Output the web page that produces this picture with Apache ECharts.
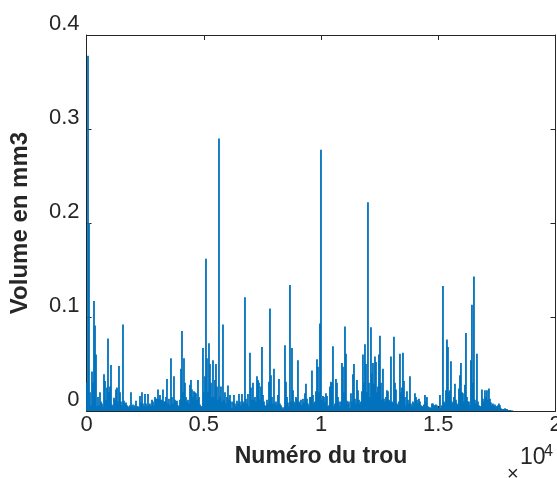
<!DOCTYPE html>
<html>
<head>
<meta charset="utf-8">
<script src="https://cdn.jsdelivr.net/npm/echarts@6/dist/echarts.min.js"></script>
<style>
html,body{margin:0;padding:0;background:#fff;}
#chart{width:557px;height:478px;}
</style>
</head>
<body>
<div id="chart"></div>
<script>
// Hole numbers: samples start at hole 21, one sample per ~42.64 holes
// (each value is the largest volume read in that group of holes)
const firstHole = 21;
const holesPerSample = 42.64;

// Volume (mm3)
const volumes = [
0.03,0.378,0.2,0.02,0.006,0.042,0.03,0.117,0.091,0.06,
0.005,0.015,0.006,0.02,0.01,0.008,0.005,0.039,0.032,0.012,
0.025,0.077,0.02,0.026,0.049,0.007,0.005,0.014,0.012,0.023,
0.025,0.01,0.048,0.02,0.01,0.006,0.092,0.011,0.008,0.009,
0.006,0.005,0.004,0.006,0.02,0.005,0.007,0.004,0.006,0.011,
0.005,0.005,0.004,0.016,0.009,0.02,0.008,0.005,0.018,0.008,
0.005,0.018,0.006,0.008,0.005,0.012,0.01,0.006,0.015,0.013,
0.013,0.023,0.013,0.017,0.012,0.012,0.023,0.01,0.01,0.015,
0.034,0.008,0.013,0.006,0.056,0.015,0.008,0.037,0.012,0.01,
0.011,0.006,0.005,0.012,0.045,0.085,0.02,0.056,0.03,0.015,
0.01,0.012,0.008,0.028,0.033,0.023,0.015,0.021,0.02,0.019,
0.012,0.033,0.015,0.007,0.005,0.005,0.067,0.02,0.037,0.162,
0.056,0.02,0.072,0.05,0.03,0.015,0.054,0.015,0.033,0.05,
0.026,0.012,0.29,0.015,0.026,0.01,0.092,0.012,0.02,0.008,
0.015,0.027,0.012,0.017,0.01,0.003,0.01,0.017,0.008,0.005,
0.011,0.008,0.018,0.01,0.006,0.018,0.01,0.008,0.121,0.013,
0.008,0.018,0.005,0.062,0.025,0.012,0.03,0.012,0.015,0.01,
0.037,0.033,0.03,0.012,0.026,0.068,0.017,0.01,0.006,0.005,
0.012,0.008,0.031,0.109,0.038,0.015,0.008,0.045,0.008,0.01,
0.006,0.017,0.034,0.008,0.006,0.004,0.002,0.004,0.07,0.031,
0.015,0.009,0.005,0.134,0.01,0.067,0.022,0.01,0.008,0.015,
0.013,0.054,0.01,0.008,0.012,0.006,0.013,0.009,0.019,0.029,
0.013,0.008,0.005,0.015,0.015,0.043,0.017,0.008,0.01,0.021,
0.055,0.047,0.02,0.093,0.278,0.012,0.016,0.015,0.01,0.019,
0.016,0.005,0.006,0.026,0.031,0.03,0.069,0.005,0.008,0.034,
0.03,0.015,0.01,0.005,0.01,0.051,0.047,0.02,0.09,0.061,
0.011,0.008,0.01,0.003,0.019,0.01,0.039,0.05,0.013,0.008,
0.033,0.022,0.012,0.008,0.01,0.021,0.06,0.03,0.071,0.05,
0.02,0.222,0.03,0.015,0.089,0.04,0.051,0.029,0.058,0.052,
0.02,0.026,0.06,0.08,0.03,0.012,0.045,0.013,0.01,0.015,
0.022,0.021,0.012,0.01,0.058,0.01,0.009,0.079,0.03,0.023,
0.008,0.006,0.01,0.061,0.02,0.025,0.062,0.032,0.015,0.006,
0.021,0.012,0.008,0.037,0.008,0.005,0.01,0.008,0.019,0.015,
0.012,0.008,0.013,0.01,0.006,0.005,0.005,0.007,0.017,0.01,
0.015,0.005,0.004,0.004,0.003,0.008,0.008,0.006,0.006,0.007,
0.006,0.003,0.003,0.017,0.003,0.006,0.133,0.01,0.008,0.022,
0.076,0.068,0.02,0.022,0.053,0.01,0.008,0.015,0.029,0.012,
0.008,0.006,0.024,0.038,0.051,0.02,0.019,0.01,0.028,0.083,
0.015,0.01,0.01,0.006,0.054,0.113,0.03,0.143,0.012,0.008,
0.061,0.01,0.006,0.005,0.005,0.023,0.013,0.01,0.022,0.015,
0.022,0.012,0.024,0.013,0.009,0.006,0.008,0.006,0.007,0.005,
0.005,0.006,0.008,0.006,0.003,0.002,0.002,0.002,0.003,0.002,
0.002,0.001,0.001,0.001,0.0005,0.0005,0.0003
];

const xTicks = [0, 5000, 10000, 15000, 20000];
const xTickLabels = ['0', '0.5', '1', '1.5', '2'];
const yTickLabels = ['0', '0.1', '0.2', '0.3', '0.4'];

const FONT = "'Liberation Sans', Arial, Helvetica, sans-serif";
const INK = '#262626';

const chart = echarts.init(document.getElementById('chart'), null, {renderer: 'canvas'});
const points = volumes.map((v, i) => [firstHole + i * holesPerSample, v]);

const boxAxis = {
  axisLine: {show: true, onZero: false, lineStyle: {color: INK, width: 1}},
  axisTick: {show: true, inside: true, length: 5, lineStyle: {color: INK, width: 1}},
  splitLine: {show: false}
};

chart.setOption({
  animation: false,
  backgroundColor: '#ffffff',
  grid: {left: 86.5, top: 35, right: 1.5, bottom: 67, containLabel: false, outerBoundsMode: 'none'},
  xAxis: [
    Object.assign({}, boxAxis, {
      type: 'value', position: 'bottom', min: 0, max: 20000, interval: 5000,
      axisLabel: {
        margin: 3, fontSize: 22, color: INK, fontFamily: FONT,
        formatter: v => xTickLabels[xTicks.indexOf(v)]
      },
      name: 'Numéro du trou', nameLocation: 'middle', nameGap: 34,
      nameTextStyle: {fontSize: 23, fontWeight: 'bold', color: INK, fontFamily: FONT}
    }),
    Object.assign({}, boxAxis, {
      type: 'value', position: 'top', min: 0, max: 20000, interval: 5000,
      axisLabel: {show: false}
    })
  ],
  yAxis: [
    Object.assign({}, boxAxis, {
      type: 'value', position: 'left', min: 0, max: 0.4, interval: 0.1,
      axisLabel: {
        margin: 7, fontSize: 22, color: INK, fontFamily: FONT,
        verticalAlign: 'bottom',
        formatter: v => yTickLabels[Math.round(v * 10)]
      },
      name: 'Volume en mm3', nameLocation: 'middle', nameGap: 54, nameRotate: 90,
      nameTextStyle: {fontSize: 24, fontWeight: 'bold', color: INK, fontFamily: FONT}
    }),
    Object.assign({}, boxAxis, {
      type: 'value', position: 'right', min: 0, max: 0.4, interval: 0.1,
      axisLabel: {show: false}
    })
  ],
  series: [{
    type: 'bar',
    xAxisIndex: 0, yAxisIndex: 0,
    data: points,
    barWidth: 1.8,
    itemStyle: {color: '#0072BD'},
    emphasis: {disabled: true},
    silent: true
  }],
  graphic: [
    {type: 'text', left: 507, top: 464, style: {text: '×', fontSize: 20, fill: INK, fontFamily: FONT}},
    {type: 'text', left: 520, top: 446, style: {text: '10', fontSize: 23, fill: INK, fontFamily: FONT}},
    {type: 'text', left: 544, top: 444, style: {text: '4', fontSize: 16, fill: INK, fontFamily: FONT}}
  ]
});
</script>
</body>
</html>
